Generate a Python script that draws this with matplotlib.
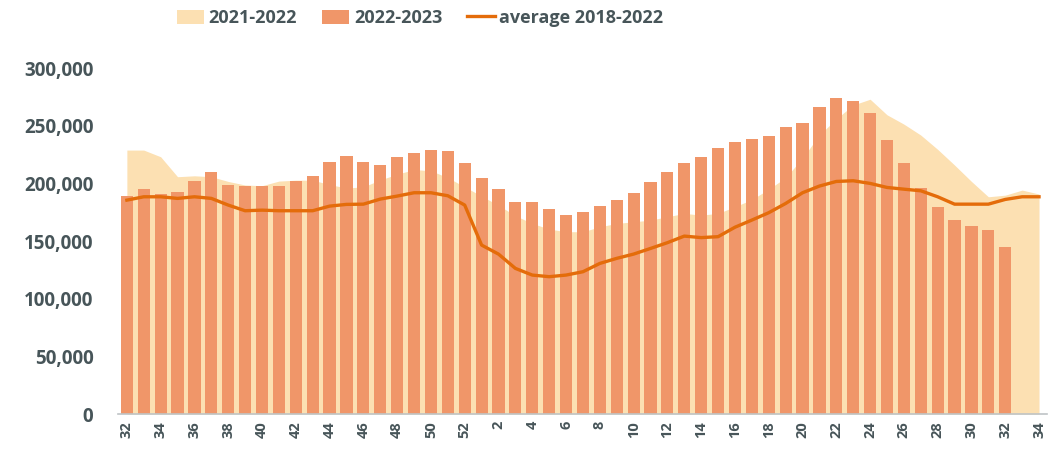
import numpy as np
import matplotlib
matplotlib.use('Agg')
import matplotlib.pyplot as plt
import matplotlib.ticker as ticker
from matplotlib.patches import Patch
from matplotlib.lines import Line2D

# ── colours ──────────────────────────────────────────────────────────────
C_AREA = '#FCE0B2'   # 2021-2022 area — light peach
C_BAR  = '#F09669'   # 2022-2023 bars — orange
C_AVG  = '#E46C0A'   # average line — dark orange
C_TXT  = '#475559'   # tick / legend text
C_AX   = '#BFC4C6'   # baseline

FONT = ['Open Sans', 'DejaVu Sans']

# ── data ─────────────────────────────────────────────────────────────────
weeks = [32, 33, 34, 35, 36, 37, 38, 39, 40, 41, 42, 43, 44, 45, 46, 47,
         48, 49, 50, 51, 52, 1, 2, 3, 4, 5, 6, 7, 8, 9, 10, 11, 12, 13, 14,
         15, 16, 17, 18, 19, 20, 21, 22, 23, 24, 25, 26, 27, 28, 29, 30,
         31, 32, 33, 34]

season_2122 = [228900, 228900, 223100, 205800, 206600, 205800, 201700,
               198600, 198000, 202000, 202800, 202800, 199000, 196000,
               197000, 203000, 208000, 212000, 211000, 205000, 197000,
               189000, 181000, 172000, 165300, 160400, 158100, 158100,
               162400, 165300, 166700, 168200, 171100, 174000, 172500,
               174000, 179800, 186000, 195000, 205000, 222000, 242000,
               256000, 268000, 273000, 259500, 251400, 241900, 229500,
               215900, 201700, 188400, 189800, 194200, 190800]

season_2223 = [189300, 194800, 190700, 192200, 201700, 209500, 198800,
               197400, 197400, 197400, 201700, 206600, 218800, 224000,
               218800, 216200, 222500, 226300, 229200, 227700, 217300,
               204300, 194800, 184100, 184100, 177400, 172500, 175100,
               180600, 185500, 191900, 201400, 209500, 217300, 222500,
               230600, 235800, 238400, 241300, 249100, 252000, 266500,
               274300, 271700, 261300, 237600, 217300, 196200, 179200,
               168200, 163300, 159200, 144800]

avg_1822 = [185500, 188400, 188400, 187000, 188400, 187000, 181200,
            176300, 176800, 176300, 176300, 176300, 180300, 181800,
            182000, 186400, 189000, 191900, 191900, 189300, 181200,
            146500, 138700, 126300, 120500, 119100, 120500, 123400,
            130600, 135000, 138700, 143600, 148600, 154300, 153000,
            153800, 162000, 168200, 174600, 182600, 191900, 197700,
            201700, 202300, 200000, 196500, 195000, 193600, 188400,
            182000, 182000, 182000, 186100, 188400, 188400]

x_all = np.arange(len(weeks))
x_bar = np.arange(len(season_2223))

# ── figure ───────────────────────────────────────────────────────────────
fig = plt.figure(figsize=(10.48, 4.51), dpi=100)
fig.patch.set_facecolor('white')
ax = fig.add_axes([0.113, 0.082, 0.8865, 0.767])

ax.fill_between(x_all, 0, season_2122, color=C_AREA, lw=0, zorder=1)
ax.bar(x_bar, season_2223, width=0.72, color=C_BAR, zorder=2)
ax.plot(x_all, avg_1822, color=C_AVG, lw=2.4, zorder=3)

ax.set_xlim(-0.5, len(weeks) - 0.5)
ax.set_ylim(0, 300000)

for sp in ['top', 'right', 'left']:
    ax.spines[sp].set_visible(False)
ax.spines['bottom'].set_color(C_AX)
ax.spines['bottom'].set_linewidth(1.2)

ax.set_xticks(x_all[::2])
ax.set_xticklabels([str(w) for w in weeks[::2]], rotation=90,
                   fontsize=10.5, fontweight='bold', color=C_TXT,
                   family=FONT)
ax.tick_params(axis='x', length=0, pad=5)

ax.yaxis.set_major_locator(ticker.MultipleLocator(50000))
ax.yaxis.set_major_formatter(ticker.FuncFormatter(lambda v, p: f'{v:,.0f}'))
ax.tick_params(axis='y', length=0, pad=18)
for lbl in ax.get_yticklabels():
    lbl.set_fontsize(13.5)
    lbl.set_fontweight('bold')
    lbl.set_color(C_TXT)
    lbl.set_family(FONT)

handles = [Patch(facecolor=C_AREA, edgecolor='none', label='2021-2022'),
           Patch(facecolor=C_BAR, edgecolor='none', label='2022-2023'),
           Line2D([0], [0], color=C_AVG, lw=2.4, label='average 2018-2022')]
leg = fig.legend(handles=handles, loc='center', ncol=3,
                 bbox_to_anchor=(420 / 1048, 1 - 18 / 451),
                 frameon=False, handlelength=1.5, handleheight=0.85,
                 handletextpad=0.25, columnspacing=1.4,
                 prop={'family': FONT, 'weight': 'bold', 'size': 13})
for t in leg.get_texts():
    t.set_color(C_TXT)

plt.savefig('out.png', dpi=100, facecolor='white')
plt.close()
